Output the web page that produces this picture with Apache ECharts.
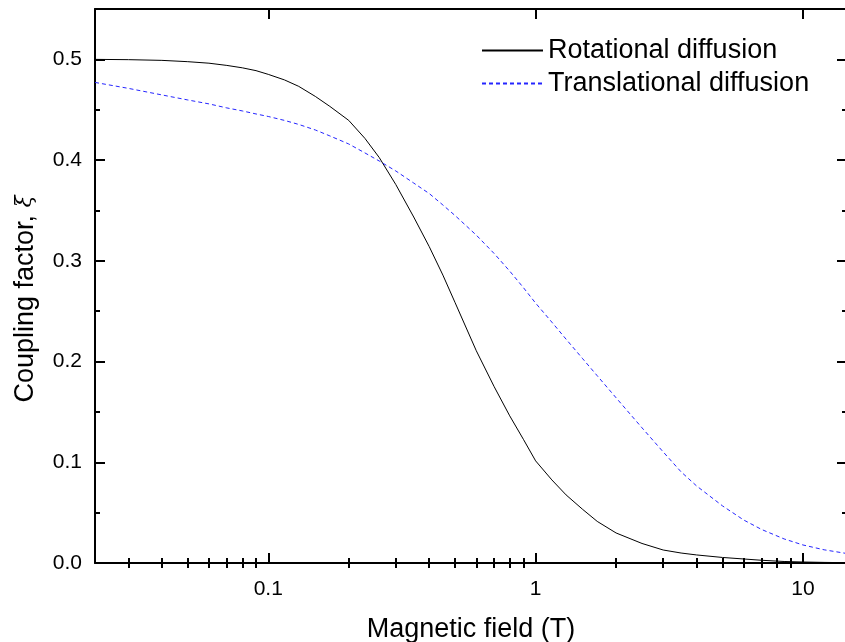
<!DOCTYPE html>
<html><head><meta charset="utf-8">
<script src="https://cdn.jsdelivr.net/npm/echarts@6/dist/echarts.min.js"></script>
<style>html,body{margin:0;padding:0;background:#fff}#c{width:845px;height:642px}</style>
</head><body><div id="c"></div>
<script>
// Magnetic field (T)
const field = [0.0225, 0.03, 0.04, 0.05, 0.06, 0.07, 0.08, 0.09, 0.1, 0.115, 0.13, 0.15, 0.17, 0.2, 0.23, 0.26, 0.3, 0.35, 0.4, 0.45, 0.5, 0.6, 0.7, 0.8, 0.9, 1, 1.15, 1.3, 1.5, 1.7, 2, 2.5, 3, 3.5, 4, 5, 6, 7, 8.5, 10, 12, 14.6];
const rotational = [0.5000, 0.4997, 0.4990, 0.4977, 0.4962, 0.4940, 0.4916, 0.4888, 0.4851, 0.4796, 0.4732, 0.4632, 0.4533, 0.4394, 0.4215, 0.4026, 0.3757, 0.3435, 0.3141, 0.2858, 0.2584, 0.2107, 0.1750, 0.1461, 0.1228, 0.1014, 0.0825, 0.0676, 0.0532, 0.0413, 0.0298, 0.0194, 0.0129, 0.0099, 0.0080, 0.0055, 0.0040, 0.0027, 0.0015, 0.0010, 0.0006, 0.0003];
const translational = [0.4771, 0.4712, 0.4647, 0.4597, 0.4558, 0.4518, 0.4488, 0.4458, 0.4433, 0.4394, 0.4354, 0.4299, 0.4240, 0.4160, 0.4071, 0.3991, 0.3892, 0.3772, 0.3668, 0.3554, 0.3449, 0.3255, 0.3072, 0.2898, 0.2734, 0.2580, 0.2391, 0.2222, 0.2028, 0.1859, 0.1640, 0.1342, 0.1103, 0.0905, 0.0765, 0.0567, 0.0427, 0.0333, 0.0239, 0.0179, 0.0131, 0.0094];
const seriesNames = ['Rotational diffusion', 'Translational diffusion'];
const xMajorTicks = [0.1, 1, 10];
const xMinorTicks = [0.03, 0.04, 0.05, 0.06, 0.07, 0.08, 0.09, 0.2, 0.3, 0.4, 0.5, 0.6, 0.7, 0.8, 0.9, 2, 3, 4, 5, 6, 7, 8, 9];
const yMajorTicks = [0, 0.1, 0.2, 0.3, 0.4, 0.5];
const yMinorTicks = [0.05, 0.15, 0.25, 0.35, 0.45];
const xRange = [0.02249, 14.61];
const yRange = [0, 0.55];

const FONT = '"Liberation Sans", Arial, sans-serif';
const rect = {left: 95, right: -2, top: 9, bottom: 79, outerBoundsMode: 'none', containLabel: false};
const axisLine = {show: true, onZero: false, lineStyle: {color: '#000', width: 2}};
const noLine = {show: false};

function xAxis(grid, pos, ticks, len, labels) {
  return {
    type: 'log', logBase: 10, gridIndex: grid, position: pos,
    min: xRange[0], max: xRange[1],
    axisLine: grid === 0 ? axisLine : noLine,
    axisTick: {show: true, inside: true, length: len, customValues: ticks, lineStyle: {color: '#000', width: 2}},
    axisLabel: labels ? {show: true, customValues: xMajorTicks, formatter: v => String(+(+v).toPrecision(3)), fontSize: 21, color: '#000', margin: 16, fontFamily: FONT} : {show: false},
    splitLine: {show: false}, minorTick: {show: false}
  };
}
function yAxis(grid, pos, ticks, len, labels) {
  return {
    type: 'value', gridIndex: grid, position: pos,
    min: yRange[0], max: yRange[1],
    axisLine: grid === 0 ? axisLine : noLine,
    axisTick: {show: true, inside: true, length: len, customValues: ticks, lineStyle: {color: '#000', width: 2}},
    axisLabel: labels ? {show: true, customValues: yMajorTicks, formatter: v => (+v).toFixed(1), fontSize: 21, color: '#000', margin: 13, fontFamily: FONT} : {show: false},
    splitLine: {show: false}, minorTick: {show: false}
  };
}

const xb = xAxis(0, 'bottom', xMajorTicks, 10, true);
Object.assign(xb, {name: 'Magnetic field (T)', nameLocation: 'middle', nameGap: 53,
  nameTextStyle: {fontSize: 27, color: '#000', fontFamily: FONT}});
const yl = yAxis(0, 'left', yMajorTicks, 10, true);
Object.assign(yl, {name: 'Coupling factor, {xi|ξ}', nameLocation: 'middle', nameGap: 56,
  nameTextStyle: {fontSize: 27, color: '#000', fontFamily: FONT, padding: [0, 26, 0, 0],
    rich: {xi: {fontSize: 22, fontFamily: '"DejaVu Serif", serif', fontStyle: 'italic', color: '#000'}}}});

const option = {
  animation: false,
  backgroundColor: '#fff',
  grid: [Object.assign({}, rect), Object.assign({}, rect)],
  legend: {
    data: seriesNames, orient: 'vertical', left: 481, top: 34, padding: 0, itemGap: 0,
    itemWidth: 61, itemHeight: 14, itemStyle: {opacity: 0, borderWidth: 0},
    textStyle: {fontSize: 27, color: '#000', fontFamily: FONT, lineHeight: 33}
  },
  xAxis: [xb, xAxis(0, 'top', xMajorTicks, 10, false), xAxis(1, 'bottom', xMinorTicks, 5, false), xAxis(1, 'top', xMinorTicks, 5, false)],
  yAxis: [yl, yAxis(0, 'right', yMajorTicks, 10, false), yAxis(1, 'left', yMinorTicks, 5, false), yAxis(1, 'right', yMinorTicks, 5, false)],
  series: [
    {name: seriesNames[0], type: 'line', xAxisIndex: 0, yAxisIndex: 0, symbol: 'none', smooth: false,
     data: field.map((x, i) => [x, rotational[i]]), lineStyle: {color: '#000', width: 1}, itemStyle: {color: '#000'}},
    {name: seriesNames[1], type: 'line', xAxisIndex: 0, yAxisIndex: 0, symbol: 'none', smooth: false,
     data: field.map((x, i) => [x, translational[i]]), lineStyle: {color: '#2525ff', width: 1, type: [4, 3]}, itemStyle: {color: '#2525ff'}}
  ]
};
const chart = echarts.init(document.getElementById('c'), null, {renderer: 'canvas'});
chart.setOption(option);
</script></body></html>
